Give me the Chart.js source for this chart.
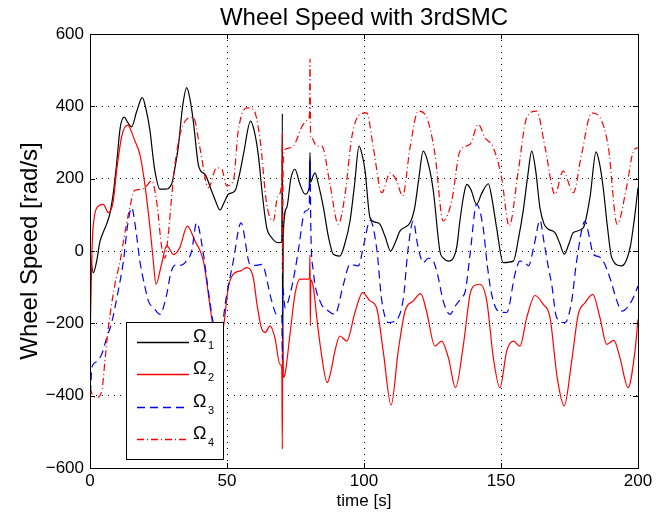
<!DOCTYPE html>
<html>
<head>
<meta charset="utf-8">
<script src="https://cdn.jsdelivr.net/npm/chart.js@4.4.1/dist/chart.umd.min.js"></script>
<style>
  html, body { margin: 0; padding: 0; background: #fff; }
  canvas { display: block; }
</style>
</head>
<body>
<canvas id="chart" width="669" height="517"></canvas>
<script>
'use strict';

// -------------------- data --------------------
const seriesNames = ['Ω₁', 'Ω₂', 'Ω₃', 'Ω₄'];
const xTicks = [0, 50, 100, 150, 200];
const yTicks = [-600, -400, -200, 0, 200, 400, 600];

const time1 = [0, 1.2, 2.5, 3.6, 5, 6.1, 7.3, 8.5, 9.7, 11, 12.5, 13.8, 15.2, 17, 19.1, 20.5, 21.9, 23, 23.7, 25.5, 27.4, 29.8, 31, 32.2, 33.8, 35.3, 36.5, 37.7, 39.5, 40.5, 42, 44.4, 46, 47.4, 49, 50.5, 52.9, 54.5, 56, 58.6, 60, 61.4, 63, 64.5, 66, 68.7, 70, 70.2, 70.3, 70.5, 71.8, 73.3, 74.8, 76.6, 78.5, 80, 80.3, 80.5, 81.3, 82.1, 83.5, 85.2, 87, 88.8, 91.2, 93, 94.9, 96.5, 98.2, 99.5, 100.4, 102.2, 104, 105.8, 107.7, 109.7, 111.5, 113.1, 116.8, 118.5, 120, 121.6, 123.5, 125.3, 127.7, 129, 130.8, 133.8, 135, 136.3, 137.5, 139, 141.1, 143, 145.4, 146.8, 148.4, 150.8, 154.5, 156.5, 158.1, 159.8, 161.2, 162.7, 164.2, 165.7, 167.3, 169.7, 171.5, 173.1, 174.8, 176.4, 180, 182.5, 184.7, 186, 187.3, 188.8, 190.4, 194, 197.1, 198.7, 200];
const omega1 = [0, -60, -25, 25, 55, 75, 105, 160, 240, 340, 370, 355, 343, 385, 424, 390, 332, 260, 221, 171, 171, 185, 230, 286, 400, 452, 420, 359, 240, 220, 212, 166, 135, 113, 135, 157, 166, 210, 267, 359, 330, 267, 150, 64, 40, 23, 25, 380, -330, 40, 120, 200, 226, 185, 157, 175, 272, 190, 205, 216, 180, 120, 40, -9, -14, 20, 83, 180, 290, 260, 221, 92, 80, 74, 40, 0, 25, 55, 78, 120, 200, 276, 240, 166, 0, -20, -28, 9, 83, 150, 184, 170, 129, 160, 186, 140, 64, -32, -28, 40, 111, 210, 276, 220, 120, 75, 60, 51, 20, -9, 20, 51, 64, 150, 274, 240, 175, 70, -18, -41, 9, 90, 175];

const time2 = [0, 0.3, 0.8, 1.5, 3, 4.9, 6.7, 8.5, 9.7, 11.6, 13.7, 16.4, 18.2, 20, 21.9, 23, 24.1, 26, 28, 30.5, 32.8, 35.5, 38.3, 41.4, 44.4, 46.5, 48.9, 50.5, 52.3, 55, 57.2, 59.6, 61, 62.7, 64, 65.7, 67.5, 69.3, 70, 70.2, 70.3, 70.6, 71.2, 73, 74.8, 76.6, 79.7, 80.1, 80.3, 80.4, 80.6, 81.5, 82.7, 84, 86.6, 88, 89.4, 91.2, 93.7, 96.7, 99.5, 102.2, 104.6, 107, 109.9, 112.5, 115, 118, 120.7, 122.8, 125.9, 128.3, 130.8, 133.4, 136.3, 138.7, 140, 142.3, 144.8, 147.2, 149.6, 152.1, 154.5, 156.9, 159.4, 162.4, 165.4, 167.9, 170.5, 173.1, 175.8, 178.2, 180.7, 183.5, 186.1, 188.6, 191.2, 193.4, 196.4, 198.9, 200];
const omega2 = [-250, -150, 20, 90, 124, 129, 106, 138, 221, 318, 348, 304, 267, 185, 64, -20, -92, -40, 15, -10, 10, 69, 28, -28, -184, -270, -200, -100, -64, -55, -46, -74, -150, -216, -225, -207, -240, -313, -323, -548, -200, -350, -340, -230, -120, -78, -78, -75, -10, -207, -80, -100, -180, -260, -364, -330, -276, -235, -249, -170, -115, -138, -157, -276, -426, -276, -166, -138, -118, -166, -263, -249, -295, -378, -258, -120, -97, -92, -138, -295, -378, -276, -249, -263, -184, -123, -147, -184, -350, -428, -304, -175, -143, -120, -184, -258, -247, -295, -378, -276, -189];

const time3 = [0, 0.6, 1.2, 2.5, 4.3, 6.1, 7.9, 10.3, 12.2, 13.7, 15.2, 16.7, 18.2, 19.8, 21.3, 23.5, 25.5, 28, 29.5, 31.6, 33, 34.7, 37.1, 38.9, 41.4, 43, 45, 47, 49.9, 52.3, 55.1, 58.4, 60.5, 62.7, 66.3, 68.1, 70, 70.2, 70.3, 71.2, 73, 74.8, 76, 78.5, 80, 80.3, 80.6, 81.5, 83.9, 87, 89.4, 92.5, 94.9, 97.9, 100, 102.2, 104.6, 106.5, 108.9, 111.3, 114.4, 116, 118, 119.5, 121.6, 123.5, 125.3, 127, 128.9, 131.4, 133.5, 135.6, 137, 138.7, 141.1, 143.5, 145, 146.6, 149, 152.1, 155.1, 156.9, 158.5, 160, 162.2, 164.2, 165.8, 167.3, 168.5, 170.3, 173.4, 175.8, 177.6, 180.7, 182.2, 183.7, 185.5, 187.3, 190, 192.3, 194.1, 197.7, 200];
const omega3 = [-430, -330, -313, -305, -285, -240, -198, -110, -28, 70, 120, 60, -28, -90, -138, -160, -175, -120, -60, -37, -40, -32, 0, 78, -9, -100, -200, -250, -120, -28, 78, -37, -40, -37, -138, -175, -180, -300, -100, -157, -120, -55, 0, 110, 120, 249, 60, -55, -138, -166, -175, -92, -37, -41, 20, 85, 9, -138, -198, -194, -129, 0, 83, 20, -32, -20, -28, -70, -138, -175, -150, -129, -110, -10, 129, 64, -40, -120, -166, -170, -64, -28, -30, -41, 20, 85, 20, -46, -92, -184, -198, -138, -28, 83, 40, -9, -15, -28, -80, -138, -166, -138, -97];

const time4 = [0, 1, 2.4, 4.3, 5.5, 6.7, 9.1, 11, 12.5, 14, 16.4, 18, 20.1, 22.5, 24.3, 26.2, 27.3, 28.5, 29.8, 31, 34, 37.7, 40.1, 43.2, 46.2, 48.1, 49.9, 52.3, 54.1, 57.2, 59.6, 62, 64.5, 66.9, 68.5, 70, 70.2, 70.3, 70.5, 71.2, 74.2, 77.8, 79.7, 80.1, 80.3, 80.5, 80.9, 82.7, 84.6, 87.6, 90.6, 93.1, 95.5, 98.5, 101, 103.4, 106.5, 109.5, 111.9, 114.1, 116.8, 119.8, 122.9, 125.9, 128.9, 132, 135, 138.7, 141.7, 144.2, 147.2, 150.2, 153, 156.3, 159.4, 163, 166.1, 169.7, 172.7, 176.4, 179.4, 183.1, 186.1, 189.2, 192.4, 195.8, 198.3, 200];
const omega4 = [-378, -400, -405, -387, -300, -212, -92, -28, 40, 101, 168, 170, 175, 194, 138, 9, -20, 40, 150, 240, 350, 370, 286, 175, 230, 226, 180, 194, 332, 396, 392, 313, 129, 83, 150, 190, 323, -60, 240, 281, 290, 350, 364, 380, 531, 313, 313, 290, 290, 184, 74, 157, 313, 378, 382, 286, 161, 216, 194, 152, 286, 387, 369, 267, 83, 138, 276, 295, 350, 313, 286, 203, 69, 221, 369, 387, 286, 157, 221, 161, 267, 382, 369, 286, 74, 175, 276, 286];

// -------------------- helpers --------------------
const FONT = "'Liberation Sans', Arial, Helvetica, sans-serif";

const lineStyles = [
  {color: 'rgb(0, 0, 0)', dash: []},
  {color: 'rgb(255, 0, 0)', dash: []},
  {color: 'rgb(0, 0, 255)', dash: [8, 5]},
  {color: 'rgb(255, 0, 0)', dash: [7, 3, 1, 3]},
];

function toPoints(ts, vs) {
  return ts.map((t, i) => ({x: t, y: vs[i]}));
}

function minus(v) {
  return String(v).replace('-', '\u2212');
}

// frame, inward ticks, title and MATLAB style legend
const matlabAxes = {
  id: 'matlabAxes',
  afterDraw(chart) {
    const {ctx, chartArea: a, scales: {x, y}} = chart;
    ctx.save();
    ctx.strokeStyle = '#000';
    ctx.lineWidth = 1;
    ctx.setLineDash([]);

    // box
    ctx.strokeRect(Math.round(a.left) + 0.5, Math.round(a.top) + 0.5,
      Math.round(a.right - a.left), Math.round(a.bottom - a.top));

    // tick marks pointing inward
    ctx.beginPath();
    xTicks.forEach(v => {
      const px = Math.round(x.getPixelForValue(v)) + 0.5;
      ctx.moveTo(px, a.bottom); ctx.lineTo(px, a.bottom - 5);
      ctx.moveTo(px, a.top); ctx.lineTo(px, a.top + 5);
    });
    yTicks.forEach(v => {
      const py = Math.round(y.getPixelForValue(v)) + 0.5;
      ctx.moveTo(a.left, py); ctx.lineTo(a.left + 5, py);
      ctx.moveTo(a.right, py); ctx.lineTo(a.right - 5, py);
    });
    ctx.stroke();

    // title
    ctx.fillStyle = '#000';
    ctx.font = '24px ' + FONT;
    ctx.textAlign = 'center';
    ctx.textBaseline = 'alphabetic';
    ctx.fillText('Wheel Speed with 3rdSMC', (a.left + a.right) / 2, 25);

    // legend box
    const bx = 126, by = 322, bw = 97, bh = 137;
    ctx.fillStyle = '#fff';
    ctx.fillRect(bx, by, bw, bh);
    ctx.strokeStyle = '#000';
    ctx.strokeRect(bx + 0.5, by + 0.5, bw, bh);
    ctx.restore();

    // legend entries
    for (let i = 0; i < lineStyles.length; i++) {
      const st = lineStyles[i];
      const ly = Math.round(342 + i * 32.4);
      ctx.save();
      ctx.lineWidth = 1.5;
      ctx.strokeStyle = st.color;
      ctx.setLineDash(st.dash);
      ctx.beginPath();
      ctx.moveTo(137, ly + 0.5);
      ctx.lineTo(189, ly + 0.5);
      ctx.stroke();
      ctx.restore();

      ctx.save();
      ctx.fillStyle = '#000';
      ctx.textAlign = 'left';
      ctx.textBaseline = 'alphabetic';
      ctx.font = '18px ' + FONT;
      ctx.fillText('Ω', 193, ly);
      ctx.font = '11px ' + FONT;
      ctx.fillText(String(i + 1), 208, ly + 7);
      ctx.restore();
    }
  }
};

// -------------------- Chart.js --------------------
const times = [time1, time2, time3, time4];
const omegas = [omega1, omega2, omega3, omega4];

const ctx = document.getElementById('chart').getContext('2d');
const chart = new Chart(ctx, {
  type: 'line',
  data: {
    datasets: seriesNames.map((name, i) => ({
      label: name,
      data: toPoints(times[i], omegas[i]),
      borderColor: lineStyles[i].color,
      borderDash: lineStyles[i].dash.slice(),
      borderWidth: 1.2,
      pointRadius: 0,
      fill: false,
      cubicInterpolationMode: 'monotone',
      order: 4 - i, // last series drawn on top, like MATLAB
    })),
  },
  options: {
    responsive: false,
    animation: false,
    layout: {padding: {left: 0, right: 31, top: 34, bottom: 0}},
    plugins: {
      legend: {display: false},
      title: {display: false},
      tooltip: {enabled: false},
    },
    scales: {
      x: {
        type: 'linear',
        min: 0,
        max: 200,
        afterBuildTicks: s => { s.ticks = xTicks.map(v => ({value: v})); },
        afterFit: s => { s.height = 49; },
        ticks: {
          color: '#000',
          padding: 3,
          maxRotation: 0,
          font: {family: FONT, size: 17},
          callback: v => minus(v),
        },
        grid: {color: '#000', lineWidth: 1, drawTicks: false},
        border: {display: false, dash: [1, 5]},
        title: {
          display: true,
          text: 'time [s]',
          color: '#000',
          font: {family: FONT, size: 17},
          padding: {top: 0, bottom: 5},
        },
      },
      y: {
        type: 'linear',
        min: -600,
        max: 600,
        afterBuildTicks: s => { s.ticks = yTicks.map(v => ({value: v})); },
        afterFit: s => { s.width = 90; },
        ticks: {
          color: '#000',
          padding: 6,
          font: {family: FONT, size: 17},
          callback: v => minus(v),
        },
        grid: {color: '#000', lineWidth: 1, drawTicks: false},
        border: {display: false, dash: [1, 5]},
        title: {
          display: true,
          text: 'Wheel Speed [rad/s]',
          color: '#000',
          font: {family: FONT, size: 24},
          padding: {top: 16, bottom: 0},
        },
      },
    },
  },
  plugins: [matlabAxes],
});
</script>
</body>
</html>
